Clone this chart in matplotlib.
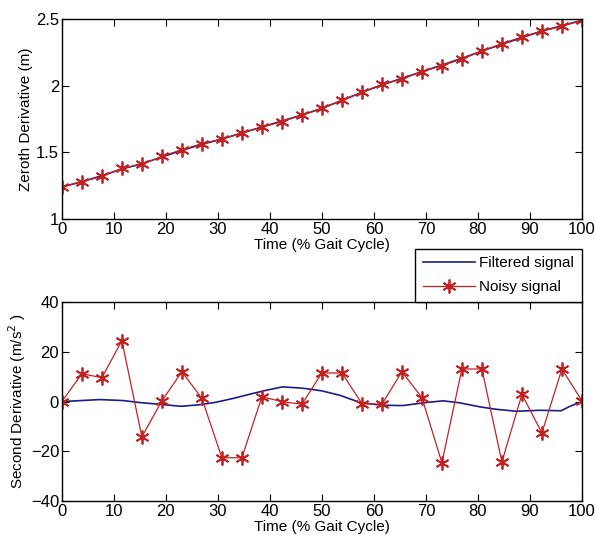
import numpy as np
import matplotlib.pyplot as plt

plt.rcParams['font.family'] = ['Liberation Sans', 'DejaVu Sans']

# sample positions (% gait cycle), 27 samples
time_pct = np.linspace(0, 100, 27)

# zeroth derivative (position, m)
zeroth_noisy = [1.24, 1.28, 1.32, 1.38, 1.41, 1.47, 1.52, 1.565, 1.60, 1.645,
                1.69, 1.73, 1.78, 1.83, 1.89, 1.95, 2.01, 2.05, 2.105, 2.15,
                2.20, 2.26, 2.315, 2.365, 2.41, 2.445, 2.49]
zeroth_filtered = [1.24, 1.28, 1.325, 1.375, 1.415, 1.465, 1.515, 1.56, 1.60, 1.645,
                   1.69, 1.735, 1.78, 1.83, 1.89, 1.95, 2.005, 2.055, 2.105, 2.155,
                   2.205, 2.26, 2.31, 2.36, 2.41, 2.45, 2.49]

# second derivative (acceleration, m/s^2)
second_noisy = [0, 11.2, 9.6, 24.5, -14.2, 0.3, 12.0, 1.3, -22.6, -22.6,
                1.9, 0, -1.1, 11.5, 11.5, -0.8, -1.1, 12.0, 1.6, -24.6,
                13.1, 13.1, -24.3, 2.9, -12.6, 13.1, 0.3]
filt_t = [0, 7.3, 11.8, 15, 18.8, 22.9, 26.4, 29.6, 32.8, 36.6, 39.2, 42.4, 45.5,
          47, 50, 53.5, 57.5, 61.8, 65.6, 69.5, 73.3, 76.5, 80.3, 83.5, 87.4,
          91.9, 96, 97.6, 100]
second_filtered = [0, 0.8, 0.4, -0.4, -1.1, -1.9, -1.3, -0.3, 1.2, 3.2, 4.5, 5.9, 5.5,
                   5.2, 4.3, 2.5, -0.5, -1.5, -1.6, -0.5, 0.3, -0.5, -2.1, -3.1, -3.9,
                   -3.5, -3.7, -2.0, 0]

blue = '#1c1c8a'
red = '#c42222'
star = (6, 2, 0)  # asterisk like matlab '*'

fig = plt.figure(figsize=(5.95, 5.51), dpi=100)
ax1 = fig.add_axes([0.104, 0.6025, 0.874, 0.363])
ax2 = fig.add_axes([0.104, 0.0907, 0.874, 0.361])

ax1.plot(time_pct, zeroth_filtered, color=blue, lw=1.2, label='Filtered signal')
ax1.plot(time_pct, zeroth_noisy, color=red, lw=0.9, marker=star, markersize=10,
         markeredgewidth=1.3, label='Noisy signal')
ax2.plot(filt_t, second_filtered, color=blue, lw=1.2)
ax2.plot(time_pct, second_noisy, color=red, lw=0.9, marker=star, markersize=10,
         markeredgewidth=1.3)

ax1.set_xlim(0, 100)
ax1.set_ylim(1, 2.5)
ax1.set_yticks([1, 1.5, 2, 2.5])
ax1.set_yticklabels(['1', '1.5', '2', '2.5'])
ax2.set_xlim(0, 100)
ax2.set_ylim(-40, 40)
ax2.set_yticks([-40, -20, 0, 20, 40])

for ax in (ax1, ax2):
    ax.set_xticks(np.arange(0, 101, 10))
    ax.tick_params(direction='in', top=True, right=True, length=5, labelsize=12, pad=2)
    for s in ax.spines.values():
        s.set_linewidth(1.0)
    ax.set_xlabel('Time (% Gait Cycle)', fontsize=11, labelpad=1)

ax1.set_ylabel('Zeroth Derivative (m)', fontsize=11, labelpad=2)
ax2.set_ylabel('Second Derivative (m/s$^2$ )', fontsize=11, labelpad=2)

leg = fig.legend(loc='lower right', bbox_to_anchor=(0.978, 0.452),
                 bbox_transform=fig.transFigure, borderaxespad=0, fancybox=False,
                 edgecolor='black', framealpha=1, fontsize=11, handlelength=3.4,
                 borderpad=0.5, labelspacing=0.65, handletextpad=0.3)
leg.get_frame().set_linewidth(1.0)

fig.savefig('out.png', dpi=100)
